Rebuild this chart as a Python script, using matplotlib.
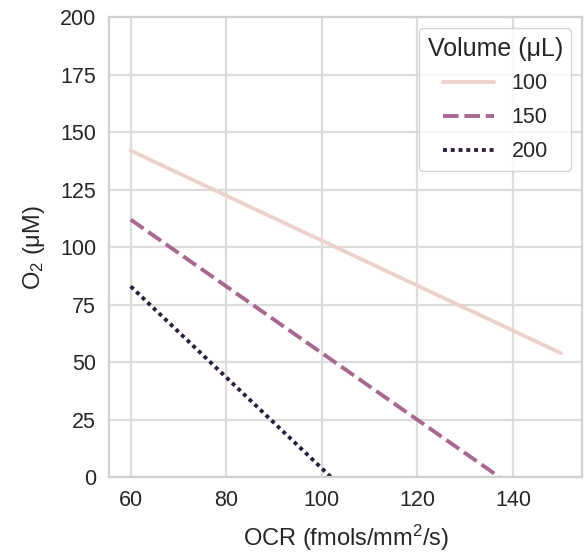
import matplotlib
matplotlib.use('Agg')
import matplotlib.pyplot as plt
import seaborn as sns
import pandas as pd

# valeurs (extrémités des droites)
ocr = [60, 150]
volumes = [100, 150, 200]
o2_100 = [142, 54]
o2_150 = [112, -18.5]
o2_200 = [83, -95]

sns.set_theme(style='whitegrid', rc={'grid.linewidth': 1.6, 'axes.linewidth': 1.6,
                                     'grid.color': '#dcdcdc', 'axes.edgecolor': '#d0d0d0'})
plt.rcParams['font.family'] = ['Liberation Sans', 'DejaVu Sans']
plt.rcParams['mathtext.fontset'] = 'custom'
plt.rcParams['mathtext.rm'] = 'Liberation Sans'
plt.rcParams['mathtext.it'] = 'Liberation Sans:italic'

df = pd.DataFrame({
    'OCR': ocr * 3,
    'O2': o2_100 + o2_150 + o2_200,
    'Volume': [v for v in volumes for _ in ocr],
})

fig = plt.figure(figsize=(5.84, 5.55), dpi=100)
ax = fig.add_subplot(111)
sns.lineplot(data=df, x='OCR', y='O2', hue='Volume', style='Volume',
             linewidth=2.8, ax=ax)
ax.set_ylim(0, 200)
ax.set_xticks([60, 80, 100, 120, 140])
ax.set_xlabel('OCR (fmols/mm$^2$/s)', fontsize=17, labelpad=8)
ax.set_ylabel('O$_2$ (μM)', fontsize=17, labelpad=9)
ax.tick_params(labelsize=15.5)
leg = ax.legend(title='Volume (μL)', loc='upper right', fontsize=15.5,
                title_fontsize=18, borderaxespad=0.5, handlelength=2.4,
                labelspacing=0.6)
fig.subplots_adjust(left=0.187, right=0.997, top=0.969, bottom=0.14)
fig.savefig('out.png', dpi=100)
